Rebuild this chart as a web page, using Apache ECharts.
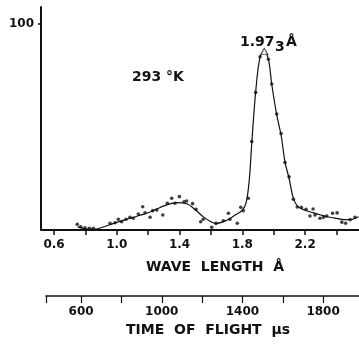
<!DOCTYPE html>
<html>
<head>
<meta charset="utf-8">
<script src="https://cdn.jsdelivr.net/npm/echarts@6/dist/echarts.min.js"></script>
<style>
  html, body { margin: 0; padding: 0; background: #fff; }
  #chart { width: 359px; height: 344px; }
</style>
</head>
<body>
<div id="chart"></div>
<script>
// Neutron wavelength spectrum at 293 K: measured counts and the fitted curve.
const pointWave = [
  0.748, 0.770, 0.797, 0.825, 0.850, 0.957, 0.989, 1.010, 1.031, 1.059,
  1.084, 1.105, 1.137, 1.165, 1.180, 1.212, 1.229, 1.255, 1.293, 1.322,
  1.350, 1.371, 1.399, 1.429, 1.445, 1.483, 1.505, 1.535, 1.551, 1.605,
  1.632, 1.679, 1.711, 1.721, 1.768, 1.790, 1.806, 1.838, 1.860, 1.885,
  1.913, 1.966, 1.987, 2.019, 2.047, 2.072, 2.098, 2.125, 2.150, 2.176,
  2.206, 2.231, 2.251, 2.263, 2.295, 2.317, 2.338, 2.375, 2.404, 2.434,
  2.458, 2.487, 2.518
];
const pointCounts = [
  2.8, 1.6, 1.1, 0.8, 0.8, 3.3, 3.5, 5.2, 4.0, 5.2,
  6.2, 5.7, 7.8, 11.3, 8.4, 6.2, 9.4, 9.7, 7.3, 13.0,
  15.4, 13.0, 16.2, 13.7, 14.1, 12.8, 10.0, 4.0, 5.2, 1.3,
  3.2, 4.5, 8.1, 5.2, 3.3, 11.0, 9.4, 15.4, 42.9, 66.8,
  84.1, 82.9, 70.9, 56.3, 46.8, 32.8, 25.8, 14.9, 11.2, 11.0,
  10.0, 6.8, 10.2, 7.3, 5.7, 6.2, 6.8, 8.1, 8.3, 3.8,
  3.3, 5.0, 6.2
];

// Fitted curve, read at its knots
const curveWave = [
  0.75, 0.80, 0.85, 0.90, 0.95, 1.00, 1.05, 1.10, 1.15, 1.20,
  1.25, 1.30, 1.35, 1.38, 1.45, 1.50, 1.55, 1.60, 1.63, 1.70,
  1.75, 1.80, 1.825, 1.845, 1.860, 1.885, 1.913, 1.940, 1.966, 1.987,
  2.019, 2.047, 2.072, 2.098, 2.125, 2.153, 2.20, 2.25, 2.30, 2.35,
  2.40, 2.45, 2.50, 2.54
];
const curveCounts = [
  1.5, 0.6, 0.4, 1.1, 2.4, 3.7, 4.9, 6.0, 7.2, 8.4,
  10.0, 11.7, 12.9, 13.3, 12.6, 9.8, 6.5, 4.0, 3.2, 4.7,
  7.0, 9.6, 13.5, 25.0, 42.0, 67.0, 84.0, 86.4, 83.0, 71.0,
  56.0, 46.0, 33.0, 25.0, 15.5, 11.5, 9.6, 8.4, 7.3, 6.3,
  5.6, 5.0, 5.2, 6.4
];

// Peak position marker
const peakWave = [1.940];
const peakCounts = [86.7];

// Axis ticks and labels
const waveTicks = [0.6, 0.8, 1.0, 1.2, 1.4, 1.6, 1.8, 2.0, 2.2, 2.4];
const waveLabels = [0.6, 1.0, 1.4, 1.8, 2.2];
const countTicks = [100];
const tofTicks = [426, 600, 800, 1000, 1200, 1400, 1600, 1800];
const tofLabels = [600, 1000, 1400, 1800];

const ink = '#111';
const labelFont = { color: ink, fontFamily: 'DejaVu Sans', fontWeight: 'bold', fontSize: 12 };

const zip = (xs, ys) => xs.map((x, i) => [x, ys[i]]);

const chart = echarts.init(document.getElementById('chart'), null, { renderer: 'canvas' });

chart.setOption({
  animation: false,
  backgroundColor: '#fff',
  grid: [
    { left: 41, right: 0, top: 7, height: 223 },
    { left: 46, right: 0, top: 290, height: 6 }
  ],
  xAxis: [
    {
      type: 'value', gridIndex: 0, min: 0.517, max: 2.5435,
      axisLine: { onZero: false, lineStyle: { color: ink, width: 2 } },
      axisTick: { show: true, inside: false, customValues: waveTicks, length: 5, lineStyle: { color: ink, width: 1.5 } },
      axisLabel: Object.assign({ customValues: waveLabels, margin: 9, formatter: v => v.toFixed(1) }, labelFont),
      splitLine: { show: false }
    },
    {
      type: 'value', gridIndex: 1, min: 426, max: 1978, position: 'bottom',
      axisLine: { lineStyle: { color: ink, width: 1.5 } },
      axisTick: { show: true, customValues: tofTicks, length: 7, lineStyle: { color: ink, width: 1.2 } },
      axisLabel: Object.assign({ customValues: tofLabels, margin: 10, formatter: v => String(v) }, labelFont),
      splitLine: { show: false }
    }
  ],
  yAxis: [
    {
      type: 'value', gridIndex: 0, min: 0, max: 108.25,
      axisLine: { show: true, onZero: false, lineStyle: { color: ink, width: 2 } },
      axisTick: { show: true, customValues: countTicks, length: 3, lineStyle: { color: ink, width: 1.5 } },
      axisLabel: Object.assign({ customValues: countTicks, margin: 7, formatter: v => String(v) }, labelFont),
      splitLine: { show: false }
    },
    { type: 'value', gridIndex: 1, show: false, min: 0, max: 1 }
  ],
  series: [
    {
      type: 'line', xAxisIndex: 0, yAxisIndex: 0,
      data: zip(curveWave, curveCounts),
      smooth: 0.35, showSymbol: false,
      lineStyle: { color: ink, width: 1.2 },
      z: 2
    },
    {
      type: 'scatter', xAxisIndex: 0, yAxisIndex: 0,
      data: zip(pointWave, pointCounts),
      symbol: 'circle', symbolSize: 3.6,
      itemStyle: { color: ink },
      z: 3
    },
    {
      type: 'scatter', xAxisIndex: 0, yAxisIndex: 0,
      data: zip(peakWave, peakCounts),
      symbol: 'triangle', symbolSize: [7, 6],
      itemStyle: { color: '#fff', borderColor: ink, borderWidth: 1 },
      z: 4
    }
  ],
  graphic: [
    { type: 'text', x: 132, y: 77, style: { text: '293 °K', fill: ink, font: 'bold 14px "DejaVu Sans"', align: 'left', verticalAlign: 'middle' } },
    { type: 'text', x: 240, y: 42, style: { text: '1.97', fill: ink, font: 'bold 14px "DejaVu Sans"', align: 'left', verticalAlign: 'middle' } },
    { type: 'text', x: 275, y: 47, style: { text: '3', fill: ink, font: 'bold 14px "DejaVu Sans"', align: 'left', verticalAlign: 'middle' } },
    { type: 'text', x: 286, y: 42, style: { text: 'Å', fill: ink, font: 'bold 14px "DejaVu Sans"', align: 'left', verticalAlign: 'middle' } },
    { type: 'text', x: 215, y: 267, style: { text: 'WAVE  LENGTH  Å', fill: ink, font: 'bold 14px "DejaVu Sans"', align: 'center', verticalAlign: 'middle' } },
    { type: 'text', x: 208, y: 330, style: { text: 'TIME  OF  FLIGHT  μs', fill: ink, font: 'bold 14px "DejaVu Sans"', align: 'center', verticalAlign: 'middle' } }
  ]
});
</script>
</body>
</html>
